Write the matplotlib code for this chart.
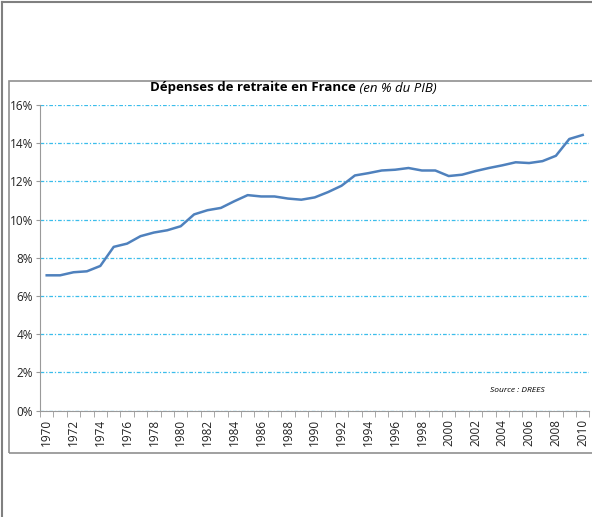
import matplotlib
matplotlib.use("Agg")
import matplotlib.pyplot as plt
from matplotlib.patches import Rectangle
from matplotlib.lines import Line2D
from matplotlib.ticker import FixedLocator, FuncFormatter

years = list(range(1970, 2011))
depenses = [
    7.08, 7.08, 7.24, 7.29, 7.57, 8.57, 8.74, 9.13, 9.32, 9.44,
    9.65, 10.27, 10.49, 10.61, 10.96, 11.28, 11.21, 11.21, 11.10, 11.04,
    11.16, 11.44, 11.77, 12.31, 12.43, 12.57, 12.61, 12.70, 12.57, 12.57,
    12.28, 12.35, 12.54, 12.70, 12.84, 13.00, 12.96, 13.06, 13.34, 14.22,
    14.43,
]
y_ticks = [0, 2, 4, 6, 8, 10, 12, 14, 16]
title_bold = "Dépenses de retraite en France"
title_ital = " (en % du PIB)"
source = "Source : DREES"

W, H = 592, 517
plt.rcParams["font.family"] = ["Open Sans", "DejaVu Sans"]
fig = plt.figure(figsize=(W / 100, H / 100), dpi=100)
fig.patch.set_facecolor("white")

# outer frame lines and inner chart box
fig.add_artist(Line2D([2 / W, 2 / W], [0, 1 - 2 / H], color="#808080", lw=1.5))
fig.add_artist(Line2D([2 / W, 1], [1 - 2 / H, 1 - 2 / H], color="#808080", lw=1.5))
fig.add_artist(Rectangle((9 / W, 1 - 453 / H), (W + 5) / W, (453 - 81) / H,
                         fill=False, edgecolor="#909090", lw=1.2))

x0, x1 = 40, 589.4
ytop, ybot = 105, 410.5
ax = fig.add_axes([x0 / W, 1 - ybot / H, (x1 - x0) / W, (ybot - ytop) / H])
ax.plot(years, depenses, color="#4F81BD", lw=1.8)

ax.set_xlim(1969.5, 2010.5)
ax.set_ylim(0, 16)
ax.yaxis.set_major_locator(FixedLocator(y_ticks))
ax.yaxis.set_major_formatter(FuncFormatter(lambda v, p: f"{v:.0f}%"))
ax.grid(axis="y", color="#3BBDEB", lw=0.9, linestyle=(0, (3, 1.5, 1, 1.5)))
ax.set_axisbelow(True)

ax.set_xticks(years[::2])
ax.set_xticklabels([str(y) for y in years[::2]], rotation=90, fontsize=8.5,
                   color="#222222")
ax.set_xticks([y - 0.5 for y in years] + [2010.5], minor=True)
ax.tick_params(axis="x", which="major", length=0, pad=6)
ax.tick_params(axis="x", which="minor", length=4, color="#9a9a9a")
ax.tick_params(axis="y", length=3, color="#9a9a9a", labelsize=8.5, pad=2,
               labelcolor="#222222")

for s in ["top", "right"]:
    ax.spines[s].set_visible(False)
for s in ["left", "bottom"]:
    ax.spines[s].set_color("#9a9a9a")

ax.text(0.919, 0.065, source, transform=ax.transAxes, fontsize=6,
        style="italic", ha="right", va="center")

# title: bold part + italic part, centered together
tb = fig.text(0, 1 - 88 / H, title_bold, fontsize=9.5, fontweight="bold",
              va="center", ha="left")
ti = fig.text(0, 1 - 88 / H, title_ital, fontsize=9.5, style="italic",
              va="center", ha="left")
fig.canvas.draw()
r = fig.canvas.get_renderer()
wb = tb.get_window_extent(r).width
wi = ti.get_window_extent(r).width
start = 293 - (wb + wi) / 2
tb.set_x(start / W)
ti.set_x((start + wb) / W)

fig.savefig("out.png", dpi=100)
